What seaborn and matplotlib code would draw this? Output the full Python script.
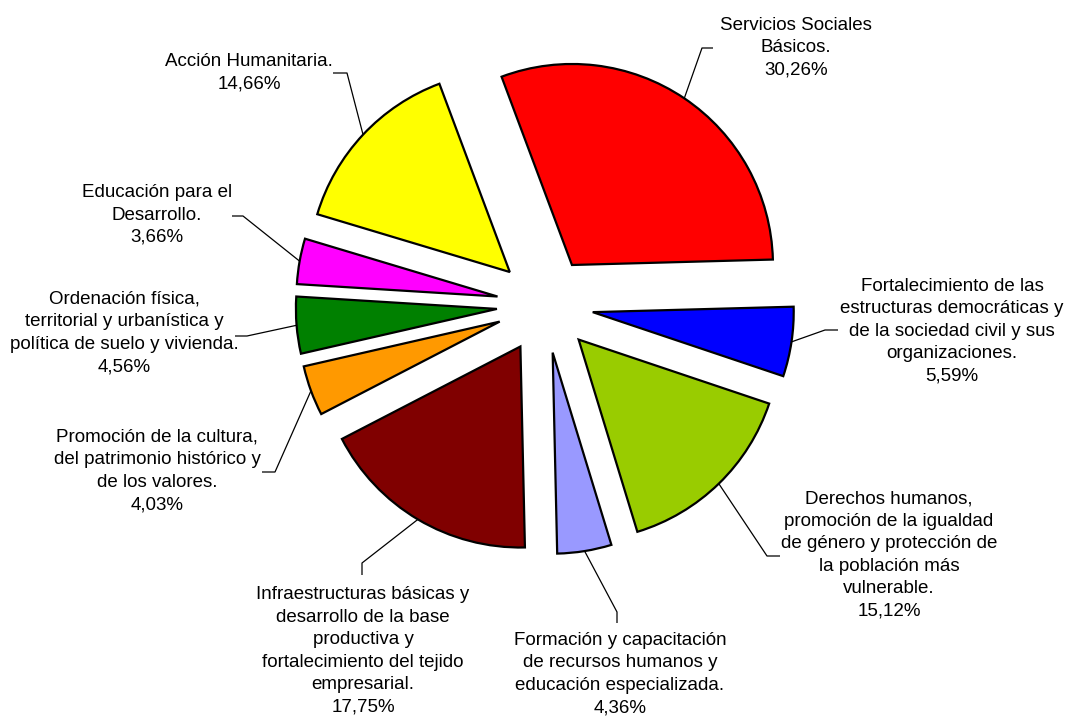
import matplotlib
matplotlib.use("Agg")
import numpy as np
import matplotlib.pyplot as plt
import seaborn as sns

# data
labels = [
    "Servicios Sociales\nBásicos.",
    "Fortalecimiento de las\nestructuras democráticas y\nde la sociedad civil y sus\norganizaciones.",
    "Derechos humanos,\npromoción de la igualdad\nde género y protección de\nla población más\nvulnerable.",
    "Formación y capacitación\nde recursos humanos y\neducación especializada.",
    "Infraestructuras básicas y\ndesarrollo de la base\nproductiva y\nfortalecimiento del tejido\nempresarial.",
    "Promoción de la cultura,\ndel patrimonio histórico y\nde los valores.",
    "Ordenación física,\nterritorial y urbanística y\npolítica de suelo y vivienda.",
    "Educación para el\nDesarrollo.",
    "Acción Humanitaria.",
]
shares = [30.26, 5.59, 15.12, 4.36, 17.75, 4.03, 4.56, 3.66, 14.66]
colors = ["#FF0000", "#0000FF", "#99CC00", "#9999FF", "#800000",
          "#FF9900", "#008000", "#FF00FF", "#FFFF00"]

# label placement in image pixels (x, y from top): text centre, elbow, stub end
text_pos = [(796, 48), (952, 331), (889, 555), (620, 674), (363, 651),
            (157, 471), (124, 333), (157, 215), (249, 73)]
elbows = [(702, 48), (825, 330), (767, 556), (617, 612), (362, 563),
          (275, 472), (247, 336), (243, 216), (347, 73)]
stub_ends = [(713, 48), (838, 330), (780, 556), (617, 623), (362, 575),
             (262, 472), (235, 336), (232, 216), (333, 73)]

W, H = 1067, 719
R = 201  # pie radius in pixels

sns.set_style("white")
plt.rcParams["font.family"] = ["Liberation Sans", "DejaVu Sans"]

fig = plt.figure(figsize=(W / 100, H / 100), dpi=100)
ax = fig.add_axes([0, 0, 1, 1])

# explode is an absolute offset in data units, so scale by radius
wedges, _ = ax.pie(
    shares,
    colors=colors,
    explode=[0.24 * R] * len(shares),
    radius=R,
    center=(545, H - 305),
    startangle=110.5,
    counterclock=False,
    wedgeprops=dict(edgecolor="black", linewidth=1.6),
)
ax.set_xlim(0, W)
ax.set_ylim(0, H)
ax.set_aspect("equal")
ax.axis("off")

for w, lab, val, tp, el, se in zip(wedges, labels, shares, text_pos, elbows, stub_ends):
    ang = np.deg2rad((w.theta1 + w.theta2) / 2)
    sx = w.center[0] + w.r * np.cos(ang)
    sy = w.center[1] + w.r * np.sin(ang)
    ax.plot([sx, el[0], se[0]], [sy, H - el[1], H - se[1]],
            color="black", lw=0.9, solid_capstyle="butt")
    txt = lab + "\n" + f"{val:.2f}".replace(".", ",") + "%"
    ax.text(tp[0], H - tp[1], txt, ha="center", va="center",
            multialignment="center", fontsize=13.5, linespacing=1.42, color="black")

fig.savefig("out.png", dpi=100)
